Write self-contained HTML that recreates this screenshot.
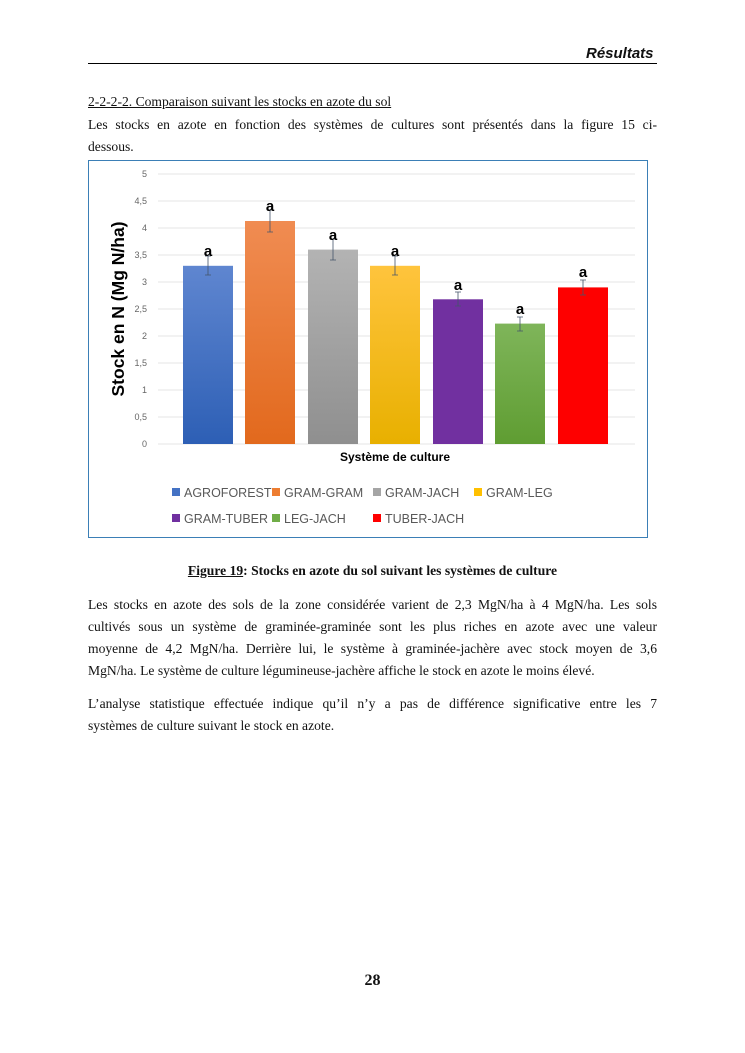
<!DOCTYPE html>
<html><head><meta charset="utf-8"><style>
body{margin:0;background:#fff;}
#p{position:relative;width:745px;height:1053px;font-family:"Liberation Serif",serif;font-size:13.6px;color:#111;}
.l{position:absolute;left:88px;width:569px;white-space:nowrap;}
.j{text-align:justify;text-align-last:justify;}
svg text{font-family:"Liberation Sans",sans-serif;}
</style></head><body><div id="p">
<div style="position:absolute;left:586px;top:45px;font-family:'Liberation Sans',sans-serif;font-style:italic;font-weight:bold;font-size:15px;">Résultats</div>
<div style="position:absolute;left:88px;top:63px;width:569px;height:1px;background:#000;"></div>
<div class="l" style="top:94px;text-decoration:underline;">2-2-2-2. Comparaison suivant les stocks en azote du sol</div>
<div class="l j" style="top:117px;">Les stocks en azote en fonction des systèmes de cultures sont présentés dans la figure 15 ci-</div>
<div class="l" style="top:139px;">dessous.</div>
<svg style="position:absolute;left:0;top:0" width="745" height="560">
<rect x="88.5" y="160.5" width="559" height="377" fill="#fff" stroke="#3b7fb6" stroke-width="1"/>
<g stroke="#e4e4e4" stroke-width="1">
<line x1="158" x2="635" y1="174" y2="174"/><line x1="158" x2="635" y1="201" y2="201"/><line x1="158" x2="635" y1="228" y2="228"/><line x1="158" x2="635" y1="255" y2="255"/><line x1="158" x2="635" y1="282" y2="282"/><line x1="158" x2="635" y1="309" y2="309"/><line x1="158" x2="635" y1="336" y2="336"/><line x1="158" x2="635" y1="363" y2="363"/><line x1="158" x2="635" y1="390" y2="390"/><line x1="158" x2="635" y1="417" y2="417"/><line x1="158" x2="635" y1="444" y2="444"/>
</g>
<g font-size="9" fill="#666" text-anchor="end">
<text x="147" y="177">5</text><text x="147" y="204">4,5</text><text x="147" y="231">4</text><text x="147" y="258">3,5</text><text x="147" y="285">3</text><text x="147" y="312">2,5</text><text x="147" y="339">2</text><text x="147" y="366">1,5</text><text x="147" y="393">1</text><text x="147" y="420">0,5</text><text x="147" y="447">0</text>
</g>
<defs>
<linearGradient id="g1" x1="0" y1="0" x2="0" y2="1"><stop offset="0" stop-color="#5f86d0"/><stop offset="1" stop-color="#2d5fb5"/></linearGradient>
<linearGradient id="g2" x1="0" y1="0" x2="0" y2="1"><stop offset="0" stop-color="#f08c52"/><stop offset="1" stop-color="#e2691d"/></linearGradient>
<linearGradient id="g3" x1="0" y1="0" x2="0" y2="1"><stop offset="0" stop-color="#b3b3b3"/><stop offset="1" stop-color="#8f8f8f"/></linearGradient>
<linearGradient id="g4" x1="0" y1="0" x2="0" y2="1"><stop offset="0" stop-color="#ffc43d"/><stop offset="1" stop-color="#e8b000"/></linearGradient>
<linearGradient id="g6" x1="0" y1="0" x2="0" y2="1"><stop offset="0" stop-color="#7fb55a"/><stop offset="1" stop-color="#5f9d32"/></linearGradient>
</defs>
<rect x="183" y="265.8" width="50" height="178.2" fill="url(#g1)"/>
<rect x="245" y="221" width="50" height="223" fill="url(#g2)"/>
<rect x="308" y="249.6" width="50" height="194.4" fill="url(#g3)"/>
<rect x="370" y="265.8" width="50" height="178.2" fill="url(#g4)"/>
<rect x="433" y="299.3" width="50" height="144.7" fill="#7130a0"/>
<rect x="495" y="323.6" width="50" height="120.4" fill="url(#g6)"/>
<rect x="558" y="287.4" width="50" height="156.6" fill="#fe0000"/>
<g stroke="#44546a" stroke-width="0.8">
<path d="M208 256V275M205 256h6M205 275h6"/>
<path d="M270 210V232M267 210h6M267 232h6"/>
<path d="M333 239V260M330 239h6M330 260h6"/>
<path d="M395 256V275M392 256h6M392 275h6"/>
<path d="M458 292V306M455 292h6M455 306h6"/>
<path d="M520 317V331M517 317h6M517 331h6"/>
<path d="M583 280V295M580 280h6M580 295h6"/>
</g>
<g font-size="15" font-weight="bold" fill="#000" text-anchor="middle">
<text x="208" y="256">a</text><text x="270" y="211">a</text><text x="333" y="240">a</text><text x="395" y="256">a</text><text x="458" y="290">a</text><text x="520" y="314">a</text><text x="583" y="277">a</text>
</g>
<text x="0" y="0" font-size="17.5" font-weight="bold" fill="#000" text-anchor="middle" transform="translate(124 309) rotate(-90)">Stock en N (Mg N/ha)</text>
<text x="395" y="461" font-size="12" font-weight="bold" fill="#000" text-anchor="middle">Système de culture</text>
<g font-size="12.5" fill="#595959">
<rect x="172" y="488" width="8" height="8" fill="#4472c4"/><text x="184" y="497">AGROFOREST</text>
<rect x="272" y="488" width="8" height="8" fill="#ed7d31"/><text x="284" y="497">GRAM-GRAM</text>
<rect x="373" y="488" width="8" height="8" fill="#a5a5a5"/><text x="385" y="497">GRAM-JACH</text>
<rect x="474" y="488" width="8" height="8" fill="#ffc000"/><text x="486" y="497">GRAM-LEG</text>
<rect x="172" y="514" width="8" height="8" fill="#7030a0"/><text x="184" y="523">GRAM-TUBER</text>
<rect x="272" y="514" width="8" height="8" fill="#70ad47"/><text x="284" y="523">LEG-JACH</text>
<rect x="373" y="514" width="8" height="8" fill="#ff0000"/><text x="385" y="523">TUBER-JACH</text>
</g>
</svg>
<div style="position:absolute;left:0;width:745px;top:563px;text-align:center;font-weight:bold;"><span style="text-decoration:underline;">Figure 19</span>: Stocks en azote du sol suivant les systèmes de culture</div>
<div class="l j" style="top:597px;">Les stocks en azote des sols de la zone considérée varient de 2,3 MgN/ha à 4 MgN/ha. Les sols</div>
<div class="l j" style="top:619px;">cultivés sous un système de graminée-graminée sont les plus riches en azote avec une valeur</div>
<div class="l j" style="top:641px;">moyenne de 4,2 MgN/ha. Derrière lui, le système à graminée-jachère avec stock moyen de 3,6</div>
<div class="l" style="top:663px;">MgN/ha. Le système de culture légumineuse-jachère affiche le stock en azote le moins élevé.</div>
<div class="l j" style="top:696px;">L’analyse statistique effectuée indique qu’il n’y a pas de différence significative entre les 7</div>
<div class="l" style="top:718px;">systèmes de culture suivant le stock en azote.</div>
<div style="position:absolute;left:0;width:745px;top:972px;text-align:center;font-weight:bold;font-size:16px;">28</div>
</div></body></html>
